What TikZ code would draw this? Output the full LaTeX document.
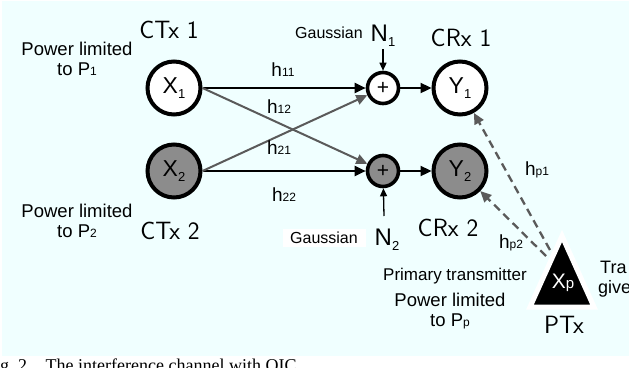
\documentclass[tikz,border=0pt]{standalone}
\usepackage{fontspec}
\setmainfont{Liberation Sans}
\newfontfamily\capfont{Liberation Serif}
\usetikzlibrary{arrows.meta}
\definecolor{bgc}{RGB}{240,255,255}
\definecolor{fillg}{RGB}{140,140,140}
\definecolor{lineg}{RGB}{90,90,90}
\newcommand{\fsz}[1]{\fontsize{#1}{#1}\selectfont}
\newcommand{\lsub}[1]{\raisebox{-5pt}{\fsz{13}#1}}
\newcommand{\ssub}[1]{{\fsz{12}#1}}
\begin{document}
\begin{tikzpicture}[x=1pt,y=-1pt,
  bigc/.style={circle,draw=black,line width=4pt,minimum size=53pt,inner sep=0pt,font=\fsz{23}},
  sumc/.style={circle,draw=black,line width=3.6pt,minimum size=31pt,inner sep=0pt,font=\fsz{21}},
  lbl/.style={inner sep=0pt,font=\fsz{18}},
  hlbl/.style={inner sep=0pt,font=\fsz{19}},
  hand/.style={inner sep=0pt,font=\sffamily\fsz{25}},
  blk/.style={draw=black,line width=2.3pt,-{Triangle[length=11pt,width=10pt]}},
  gry/.style={draw=lineg,line width=2pt,-{Triangle[length=11pt,width=10pt]}},
  dsh/.style={draw=lineg,line width=2.3pt,dash pattern=on 8pt off 5pt,-{Triangle[length=11pt,width=10pt]}},
  thin/.style={draw=black,line width=1.3pt,-{Triangle[length=8pt,width=7pt]}}
]
\useasboundingbox (0,0) rectangle (629,367);
\fill[white] (0,0) rectangle (629,367);
\fill[bgc] (2,1) rectangle (629,356);

% transmitters and receivers
\node[bigc,fill=white] (X1) at (174,88) {X\lsub{1}};
\node[bigc,fill=fillg] (X2) at (174,171) {X\lsub{2}};
\node[sumc,fill=white] (S1) at (383,88) {+};
\node[sumc,fill=fillg] (S2) at (383,171) {+};
\node[bigc,fill=white] (Y1) at (460,88) {Y\lsub{1}};
\node[bigc,fill=fillg] (Y2) at (460,171) {Y\lsub{2}};

% channels
\draw[blk] (X1.east) -- (S1.west);
\draw[blk] (X2.east) -- (S2.west);
\draw[gry] (X1.east) -- (S2);
\draw[gry] (X2.east) -- (S1);
\draw[blk] (S1) -- (Y1);
\draw[blk] (S2) -- (Y2);

\node[hlbl] (h11) at (283,70) {h\ssub{11}};
\node[hlbl] (h12) at (279,107) {h\ssub{12}};
\node[hlbl] (h21) at (279,148) {h\ssub{21}};
\node[hlbl] (h22) at (284,195) {h\ssub{22}};

% noise
\node[lbl,font=\fsz{16}] (g1) at (329,33) {Gaussian};
\node[inner sep=0pt,font=\fsz{24}] (N1) at (383,36) {N\lsub{1}};
\coordinate (n1) at (383,49);
\draw[thin] (n1) -- (S1);
\node[fill=white,minimum width=83pt,minimum height=18pt,inner sep=0pt,font=\fsz{16}] (g2) at (324,238) {Gaussian};
\node[inner sep=0pt,font=\fsz{24}] (N2) at (387,240) {N\lsub{2}};
\coordinate (n2) at (384,216);
\draw[thin] (n2) -- (S2);

% node names
\node[hand] (ct1) at (169,30) {CTx 1};
\node[hand] (cr1) at (461,38) {CRx 1};
\node[hand] (ct2) at (170,231) {CTx 2};
\node[hand] (cr2) at (448,228) {CRx 2};
\node[hand] (ptx) at (564,325) {PTx};

% power labels
\node[lbl,align=center,font=\fsz{18.5}] (pl1) at (77,59) {Power limited\\[1pt]to P\ssub{1}};
\node[lbl,align=center,font=\fsz{18.5}] (pl2) at (77,221) {Power limited\\[1pt]to P\ssub{2}};
\node[lbl,font=\fsz{17}] (prim) at (455,276) {Primary transmitter};
\node[lbl,align=center,font=\fsz{18.5}] (plp) at (450,311) {Power limited\\[1pt]to P\ssub{p}};

% primary transmitter
\draw[white,line width=5pt,fill=black] (562,236) -- (594,307) -- (530,307) -- cycle;
\node[inner sep=0pt,text=white,font=\fsz{21}] (XP) at (563,283) {X{\fsz{15}p}};
\coordinate (p1) at (550,250);
\coordinate (p2) at (546,256);
\draw[dsh] (p1) -- (Y1);
\draw[dsh] (p2) -- (Y2);
\node[hlbl] (hp1) at (537,170) {h\ssub{p1}};
\node[hlbl] (hp2) at (511,243) {h\ssub{p2}};

\node[lbl,anchor=west,font=\fsz{18}] (tra) at (600,267) {Tra};
\node[lbl,anchor=west,font=\fsz{18}] (give) at (598,289) {give};

% caption
\node[inner sep=0pt,anchor=base west,font=\capfont\fsz{18}] (cap) at (0,371) {g.\ 2.\hspace{14pt}The interference channel with QIC};
\end{tikzpicture}
\end{document}
